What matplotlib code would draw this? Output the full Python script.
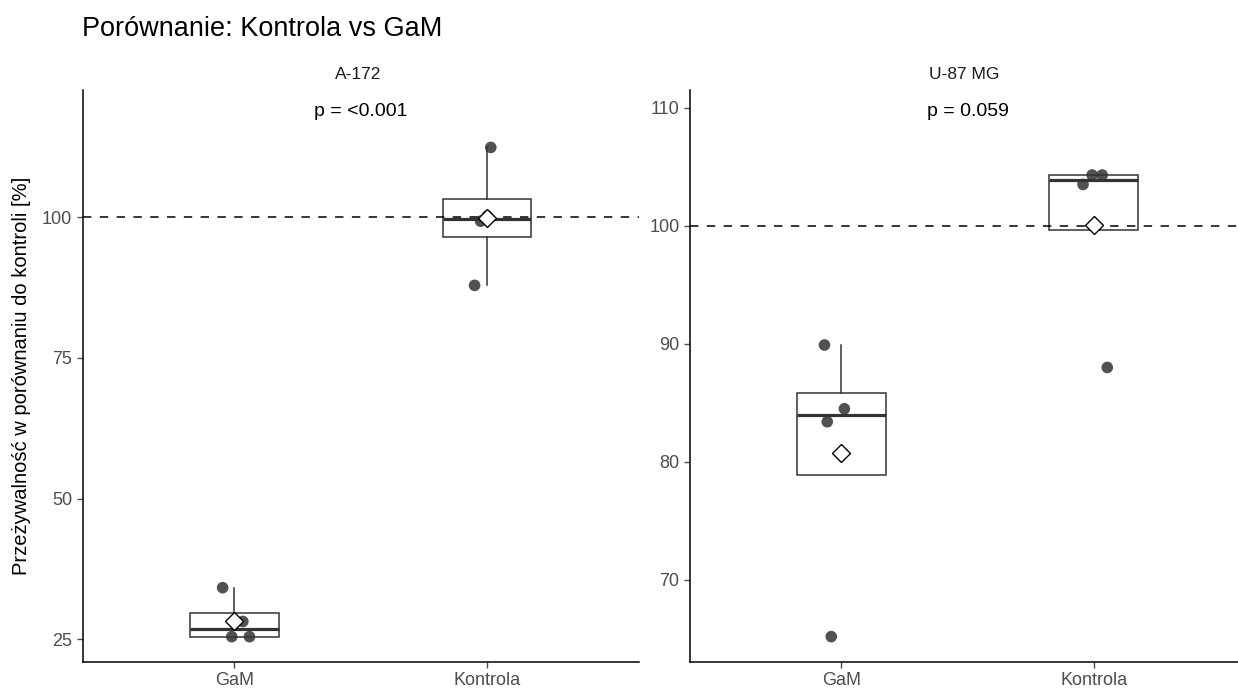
import numpy as np
import matplotlib
matplotlib.use("Agg")
import matplotlib.pyplot as plt

plt.rcParams['font.family'] = ['Liberation Sans', 'DejaVu Sans']

# Data
groups = ['GaM', 'Kontrola']
panels = ['A-172', 'U-87 MG']
p_labels = ['p = <0.001', 'p = 0.059']
p_label_y = [117.9, 109.3]

a172_gam = [34.2, 28.2, 25.5, 25.5]
a172_ctrl = [112.4, 87.9, 99.3, 100.2]
u87_gam = [89.9, 84.5, 83.4, 65.2]
u87_ctrl = [104.3, 104.3, 103.5, 88.0]

# horizontal jitter of the points (in category units)
a172_gam_jit = [-0.046, 0.034, -0.010, 0.060]
a172_ctrl_jit = [0.014, -0.050, -0.026, 0.000]
u87_gam_jit = [-0.067, 0.012, -0.056, -0.040]
u87_ctrl_jit = [-0.006, 0.034, -0.042, 0.054]

yticks = [[25, 50, 75, 100], [70, 80, 90, 100, 110]]
ylims = [(21.0, 122.6), (63.05, 111.5)]

panel_data = [(a172_gam, a172_ctrl), (u87_gam, u87_ctrl)]
panel_jit = [(a172_gam_jit, a172_ctrl_jit), (u87_gam_jit, u87_ctrl_jit)]

W, H = 1238, 688
fig = plt.figure(figsize=(W / 100, H / 100), dpi=100)

ax_pos = [
    [82.5 / W, 26 / H, 556.5 / W, 572 / H],
    [690 / W, 26 / H, 555 / W, 572 / H],
]

box_col = '#333333'
tick_col = '#4D4D4D'

for i in range(2):
    ax = fig.add_axes(ax_pos[i])
    vals = panel_data[i]
    ax.boxplot(vals, positions=[1, 2], widths=0.35, showfliers=False,
               patch_artist=True,
               boxprops=dict(facecolor='white', edgecolor=box_col, linewidth=1.1),
               medianprops=dict(color=box_col, linewidth=2.3),
               whiskerprops=dict(color=box_col, linewidth=1.1),
               capprops=dict(linewidth=0), zorder=2)

    hl = ax.axhline(100, color='black', linewidth=1.1, zorder=3)
    hl.set_dashes((5.5, 5.5))

    for j in range(2):
        xs = [j + 1 + d for d in panel_jit[i][j]]
        ax.scatter(xs, vals[j], s=70, color='#333333', alpha=0.85,
                   edgecolors='none', zorder=4)
        ax.plot(j + 1, np.mean(vals[j]), marker='D', markersize=9,
                markerfacecolor='white', markeredgecolor='black',
                markeredgewidth=1.0, zorder=5)

    ax.text(1.5, p_label_y[i], p_labels[i], ha='center', va='baseline',
            fontsize=14, color='black')

    ax.set_xlim(0.4, 2.6)
    ax.set_ylim(*ylims[i])
    ax.set_xticks([1, 2])
    ax.set_xticklabels(groups)
    ax.set_yticks(yticks[i])
    ax.tick_params(axis='both', colors=tick_col, labelsize=13, length=4,
                   width=1.0, labelcolor=tick_col)
    ax.spines['top'].set_visible(False)
    ax.spines['right'].set_visible(False)
    for s in ['left', 'bottom']:
        ax.spines[s].set_linewidth(1.1)
        ax.spines[s].set_color('black')
    ax.set_facecolor('white')

    cx = ax_pos[i][0] + ax_pos[i][2] / 2
    fig.text(cx - 3 / W, 1 - 79 / H, panels[i], ha='center', va='baseline',
             fontsize=12.5, color='#1A1A1A')

fig.text(82.5 / W, 1 - 36 / H, 'Porównanie: Kontrola vs GaM', ha='left',
         va='baseline', fontsize=19.5, color='black')
fig.text(22 / W, 1 - 376 / H, 'Przeżywalność w porównaniu do kontroli [%]',
         rotation=90, ha='center', va='center', fontsize=14.5, color='black')

fig.savefig('out.png', dpi=100, facecolor='white')
